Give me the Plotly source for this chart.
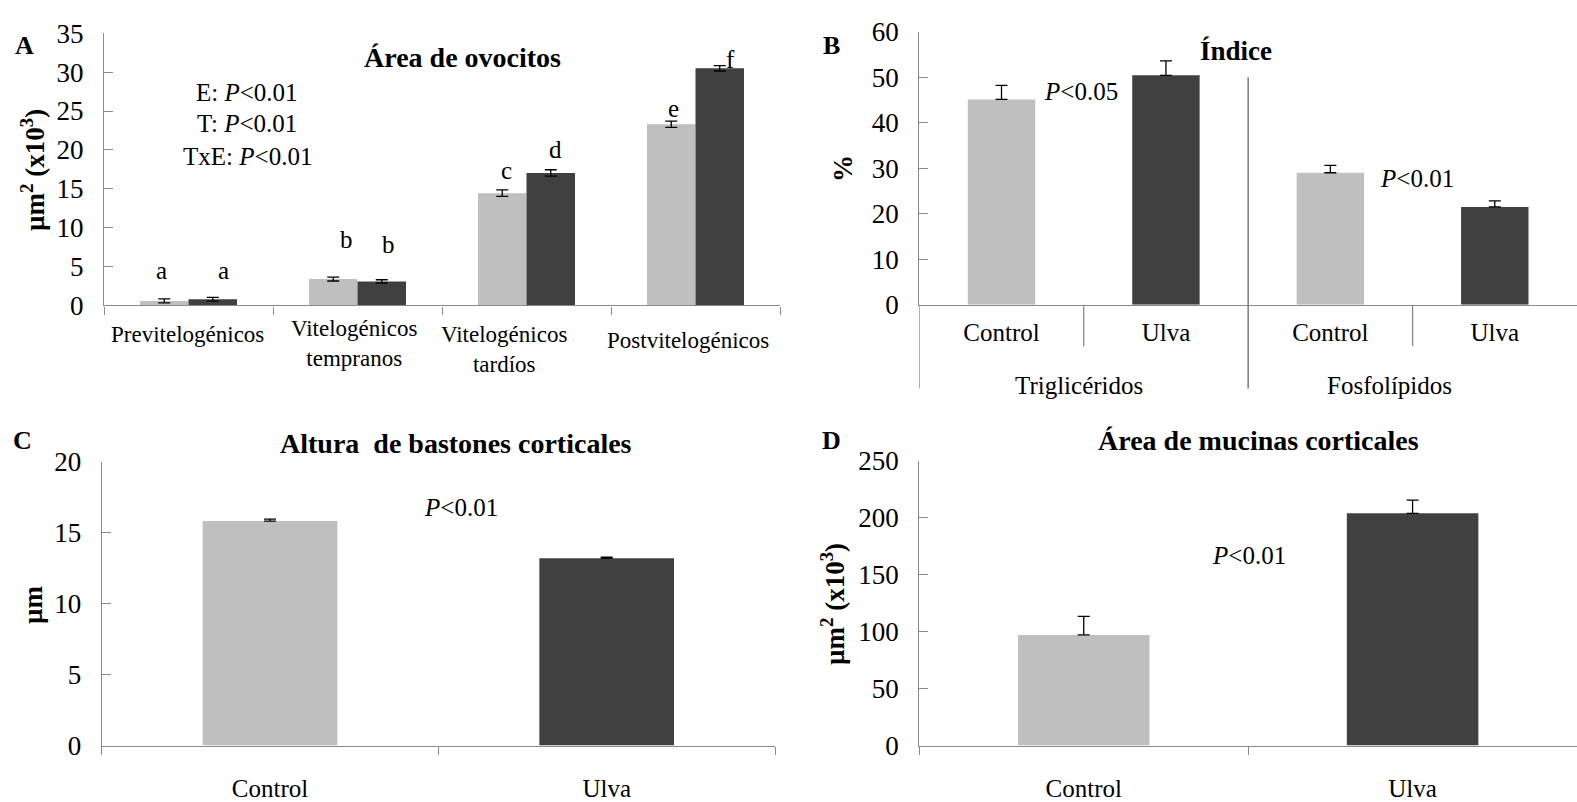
import plotly.graph_objects as go

# ---------------- data ----------------
# A: oocyte area (µm² x10³) by stage
stages = ["Previtelogénicos", "Vitelogénicos tempranos", "Vitelogénicos tardíos", "Postvitelogénicos"]
area_control = [0.58, 3.39, 14.44, 23.3]
area_control_se = [0.25, 0.25, 0.41, 0.40]
area_ulva = [0.79, 3.09, 17.04, 30.5]
area_ulva_se = [0.25, 0.21, 0.41, 0.35]
area_letters_control = ["a", "b", "c", "e"]
area_letters_ulva = ["a", "b", "d", "f"]

# B: lipid index (%)
lipid_groups = ["Triglicéridos", "Fosfolípidos"]
lipid_control = [45.1, 29.0]
lipid_control_se = [3.1, 1.6]
lipid_ulva = [50.4, 21.5]
lipid_ulva_se = [3.2, 1.3]

# C: cortical rod height (µm)
diets = ["Control", "Ulva"]
rod_height = [15.83, 13.21]
rod_height_se = [0.14, 0.07]

# D: cortical mucin area (µm² x10³)
mucin_area = [97.2, 204.0]
mucin_area_se = [16.3, 11.6]

# ---------------- style ----------------
W, H = 1577, 802
LIGHT = "#BFBFBF"
DARK = "#404040"
AXIS = "#8A8A8A"
FONT = "Liberation Serif, Times New Roman, serif"


def px(x):
    return x / W


def py(y):
    return 1 - y / H


fig = go.Figure()

# ---- Panel A: grouped bars ----
bw = 0.287
fig.add_trace(go.Bar(
    x=stages, y=area_control, width=bw, offset=-bw,
    marker=dict(color=LIGHT, line=dict(width=0)),
    error_y=dict(type="data", array=area_control_se, color="black", thickness=1.3, width=6),
    xaxis="x", yaxis="y"))
fig.add_trace(go.Bar(
    x=stages, y=area_ulva, width=bw, offset=0,
    marker=dict(color=DARK, line=dict(width=0)),
    error_y=dict(type="data", array=area_ulva_se, color="black", thickness=1.3, width=6),
    xaxis="x", yaxis="y"))

# ---- Panel B: lipid index, two groups of Control/Ulva ----
bpos_control = [0, 2]
bpos_ulva = [1, 3]
fig.add_trace(go.Bar(
    x=bpos_control, y=lipid_control, width=0.41,
    marker=dict(color=LIGHT, line=dict(width=0)),
    error_y=dict(type="data", array=lipid_control_se, arrayminus=[0, 0], symmetric=False,
                 color="black", thickness=1.3, width=6),
    xaxis="x2", yaxis="y2"))
fig.add_trace(go.Bar(
    x=bpos_ulva, y=lipid_ulva, width=0.41,
    marker=dict(color=DARK, line=dict(width=0)),
    error_y=dict(type="data", array=lipid_ulva_se, arrayminus=[0, 0], symmetric=False,
                 color="black", thickness=1.3, width=6),
    xaxis="x2", yaxis="y2"))

# ---- Panel C ----
fig.add_trace(go.Bar(
    x=diets, y=rod_height, width=0.40,
    marker=dict(color=[LIGHT, DARK], line=dict(width=0)),
    error_y=dict(type="data", array=rod_height_se, arrayminus=[0, 0], symmetric=False,
                 color="black", thickness=1.3, width=6),
    xaxis="x3", yaxis="y3"))

# ---- Panel D ----
fig.add_trace(go.Bar(
    x=diets, y=mucin_area, width=0.40,
    marker=dict(color=[LIGHT, DARK], line=dict(width=0)),
    error_y=dict(type="data", array=mucin_area_se, arrayminus=[0, 0], symmetric=False,
                 color="black", thickness=1.3, width=6),
    xaxis="x4", yaxis="y4"))

common_y = dict(showline=True, linecolor=AXIS, linewidth=1.3, ticks="inside", ticklen=9,
                tickcolor=AXIS, tickwidth=1.3, showgrid=False, zeroline=False,
                tickfont=dict(family=FONT, size=27, color="black"), ticklabelstandoff=14)
common_x = dict(showline=True, linecolor=AXIS, linewidth=1.3, showgrid=False, zeroline=False,
                tickcolor=AXIS, tickwidth=1.3,
                tickfont=dict(family=FONT, size=25, color="black"))

fig.update_layout(
    width=W, height=H,
    margin=dict(l=0, r=0, t=0, b=0),
    paper_bgcolor="white", plot_bgcolor="white",
    showlegend=False, barmode="overlay",
    font=dict(family=FONT, size=25, color="black"),
    xaxis=dict(domain=[px(104), px(780)], anchor="y", type="category",
               categoryorder="array", categoryarray=stages, range=[-0.5, 3.5],
               tickson="boundaries", ticks="outside", ticklen=8, showticklabels=False, **common_x),
    yaxis=dict(domain=[py(301.7), py(19)], anchor="x", range=[0, 35], dtick=5, **common_y),
    xaxis2=dict(domain=[px(919.3), 1.0], anchor="y2", range=[-0.5, 3.5],
                tickmode="array", tickvals=[0, 1, 2, 3],
                ticktext=["Control", "Ulva", "Control", "Ulva"],
                ticks="", ticklabelstandoff=5, **common_x),
    yaxis2=dict(domain=[py(301), py(17.3)], anchor="x2", range=[0, 60], dtick=10, **common_y),
    xaxis3=dict(domain=[px(101.7), px(775)], anchor="y3", type="category", range=[-0.5, 1.5],
                tickson="boundaries", ticks="outside", ticklen=8, ticklabelstandoff=20, **common_x),
    yaxis3=dict(domain=[py(759), py(464.3)], anchor="x3", range=[0, 20], dtick=5, **common_y),
    xaxis4=dict(domain=[px(919.3), 1.0], anchor="y4", type="category", range=[-0.5, 1.5],
                tickson="boundaries", ticks="outside", ticklen=8, ticklabelstandoff=20, **common_x),
    yaxis4=dict(domain=[py(759), py(463.3)], anchor="x4", range=[0, 250], dtick=50, **common_y),
)

# ---- Panel B separators: group divider, in-group ticks, extended left axis ----
shapes = [
    dict(type="line", xref="x2", yref="y2 domain", x0=1.5, x1=1.5, y0=50 / 60, y1=-0.307,
         line=dict(color="#7A7A7A", width=1.5)),
    dict(type="line", xref="x2", yref="y2 domain", x0=0.5, x1=0.5, y0=0, y1=-0.152,
         line=dict(color=AXIS, width=1.3)),
    dict(type="line", xref="x2", yref="y2 domain", x0=2.5, x1=2.5, y0=0, y1=-0.152,
         line=dict(color=AXIS, width=1.3)),
    dict(type="line", xref="x2", yref="y2 domain", x0=-0.5, x1=-0.5, y0=0, y1=-0.307,
         line=dict(color=AXIS, width=1.3)),
]
fig.update_layout(shapes=shapes)

ann = []


def text(x, y, s, size, bold=False, angle=0):
    if bold:
        s = f"<b>{s}</b>"
    ann.append(dict(x=px(x), y=py(y), xref="paper", yref="paper", text=s, showarrow=False,
                    xanchor="center", yanchor="middle", textangle=angle,
                    font=dict(family=FONT, size=size, color="black")))


PLT = "<i>P</i>&lt;0.01"

# Panel A
text(24, 32, "A", 26, bold=True)
text(462, 44, "Área de ovocitos", 28, bold=True)
text(247, 80, "E: " + PLT, 25)
text(247, 113, "T: " + PLT, 25)
text(247, 147, "TxE: " + PLT, 25)
text(33, 161, "µm<sup>2</sup> (x10<sup>3</sup>)", 27, bold=True, angle=-90)
text(187.5, 331.7, stages[0], 23)
text(353.5, 341, "Vitelogénicos<br>tempranos", 23)
text(504, 347.2, "Vitelogénicos<br>tardíos", 23)
text(687.5, 338, stages[3], 23)
for (x, y), s in zip([(161.7, 265), (346.7, 233.3), (506.7, 161.7), (673, 97.3)], area_letters_control):
    text(x, y, s, 25)
for (x, y), s in zip([(223, 265), (388, 238.3), (555, 140), (730, 46.7)], area_letters_ulva):
    text(x, y, s, 25)

# Panel B
text(832, 32, "B", 26, bold=True)
text(1236, 37, "Índice", 27, bold=True)
text(843, 160, "%", 27, bold=True, angle=-90)
text(1081, 79, "<i>P</i>&lt;0.05", 25)
text(1417, 170, PLT, 25)
text(1079, 385, lipid_groups[0], 25)
text(1389, 385, lipid_groups[1], 25)

# Panel C
text(22, 442, "C", 26, bold=True)
text(456, 445, "Altura\u00a0 de bastones corticales", 28, bold=True)
text(461, 512, PLT, 25)
text(33, 613, "µm", 27, bold=True, angle=-90)

# Panel D
text(832, 442, "D", 26, bold=True)
text(1258, 442, "Área de mucinas corticales", 28, bold=True)
text(1249, 562, PLT, 25)
text(833, 612, "µm<sup>2</sup> (x10<sup>3</sup>)", 27, bold=True, angle=-90)

fig.update_layout(annotations=ann)

fig.write_html("out.html")
